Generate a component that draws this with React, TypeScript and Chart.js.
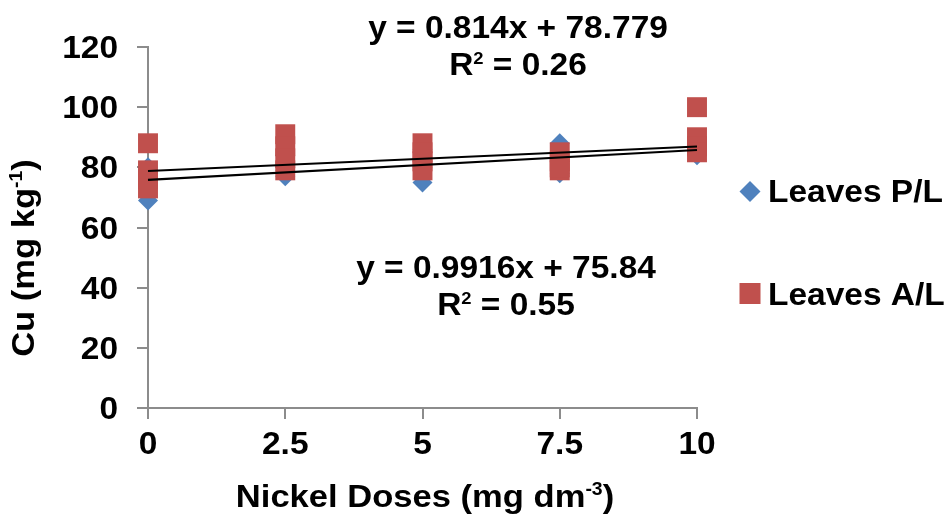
import React, { useEffect, useRef } from 'react';
import { Chart, registerables } from 'chart.js';

Chart.register(...registerables);

// ---- data ----
const doseLevels = [0, 2.5, 5, 7.5, 10];
const leavesPL = [
  [69, 74, 77, 80],
  [77, 80, 84, 79],
  [75, 80, 83, 86],
  [88, 78, 83, 85],
  [84, 86, 88, 89],
];
const leavesAL = [
  [88, 79, 76, 73],
  [91, 87, 83, 79],
  [88, 85, 82, 79],
  [85, 82, 79, 80],
  [100, 90, 87, 85],
];
const trendTop = { slope: 0.814, intercept: 78.779, eq: 'y = 0.814x + 78.779', r2: '0.26' };
const trendBottom = { slope: 0.9916, intercept: 75.84, eq: 'y = 0.9916x + 75.84', r2: '0.55' };
const yMin = 0;
const yMax = 120;
const yStep = 20;
const xStep = 2.5;
const seriesNames = ['Leaves P/L', 'Leaves A/L'];

const BLUE = '#4F81BD';
const RED = '#C0504D';
const AXIS = '#8C8C8C';
const FONT = '"Liberation Sans", Arial, sans-serif';
const SX = 1.08;

const toPoints = (vals: number[][]) =>
  doseLevels.flatMap((d, i) => vals[i].map((v) => ({ x: d, y: v })));

const trendPoints = (t: { slope: number; intercept: number }) => {
  const x0 = doseLevels[0];
  const x1 = doseLevels[doseLevels.length - 1];
  return [
    { x: x0, y: t.intercept + t.slope * x0 },
    { x: x1, y: t.intercept + t.slope * x1 },
  ];
};

type Part = { t: string; sup?: boolean };

function drawRich(
  ctx: CanvasRenderingContext2D,
  parts: Part[],
  x: number,
  y: number,
  size: number,
  align: 'center' | 'left' | 'right'
) {
  const supSize = Math.round(size * 0.55);
  const main = `bold ${size}px ${FONT}`;
  const sup = `bold ${supSize}px ${FONT}`;
  let total = 0;
  for (const p of parts) {
    ctx.font = p.sup ? sup : main;
    total += ctx.measureText(p.t).width;
  }
  ctx.save();
  ctx.translate(x, y);
  ctx.scale(SX, 1);
  let cx = align === 'center' ? -total / 2 : align === 'right' ? -total : 0;
  ctx.textAlign = 'left';
  ctx.textBaseline = 'alphabetic';
  for (const p of parts) {
    ctx.font = p.sup ? sup : main;
    ctx.fillText(p.t, cx, p.sup ? -size * 0.36 : 0);
    cx += ctx.measureText(p.t).width;
  }
  ctx.restore();
}

const textPlugin = {
  id: 'textPlugin',
  afterDraw(chart: any) {
    const ctx: CanvasRenderingContext2D = chart.ctx;
    const xs = chart.scales.x;
    const ys = chart.scales.y;
    ctx.save();
    ctx.fillStyle = '#000';
    // tick labels
    for (const t of ys.ticks) {
      drawRich(ctx, [{ t: String(t.value) }], 118, ys.getPixelForValue(t.value) + 11, 31, 'right');
    }
    for (const t of xs.ticks) {
      drawRich(ctx, [{ t: String(t.value) }], xs.getPixelForValue(t.value), 454, 31, 'center');
    }
    // equations
    drawRich(ctx, [{ t: trendTop.eq }], 518, 38, 31, 'center');
    drawRich(ctx, [{ t: 'R' }, { t: '2', sup: true }, { t: ' = ' + trendTop.r2 }], 518, 75, 31, 'center');
    drawRich(ctx, [{ t: trendBottom.eq }], 506, 278, 31, 'center');
    drawRich(ctx, [{ t: 'R' }, { t: '2', sup: true }, { t: ' = ' + trendBottom.r2 }], 506, 315, 31, 'center');
    // x title
    drawRich(ctx, [{ t: 'Nickel Doses (mg dm' }, { t: '-3', sup: true }, { t: ')' }], 425, 507, 32, 'center');
    // y title
    ctx.save();
    ctx.translate(34, 258);
    ctx.rotate(-Math.PI / 2);
    drawRich(ctx, [{ t: 'Cu (mg kg' }, { t: '-1', sup: true }, { t: ')' }], 0, 0, 32, 'center');
    ctx.restore();
    // legend
    ctx.fillStyle = BLUE;
    ctx.beginPath();
    ctx.moveTo(750, 181);
    ctx.lineTo(760.5, 191.5);
    ctx.lineTo(750, 202);
    ctx.lineTo(739.5, 191.5);
    ctx.closePath();
    ctx.fill();
    ctx.fillStyle = RED;
    ctx.fillRect(739.5, 283, 21, 21);
    ctx.fillStyle = '#000';
    drawRich(ctx, [{ t: seriesNames[0] }], 768, 202, 31, 'left');
    drawRich(ctx, [{ t: seriesNames[1] }], 768, 305, 31, 'left');
    ctx.restore();
  },
};

export default function App() {
  const ref = useRef<HTMLCanvasElement>(null);
  useEffect(() => {
    if (!ref.current) return;
    const chart = new Chart(ref.current, {
      type: 'scatter',
      data: {
        datasets: [
          {
            type: 'line',
            label: 'trend top',
            data: trendPoints(trendTop),
            borderColor: '#000',
            borderWidth: 2.2,
            pointRadius: 0,
            fill: false,
            clip: false,
            order: 0,
          } as any,
          {
            type: 'line',
            label: 'trend bottom',
            data: trendPoints(trendBottom),
            borderColor: '#000',
            borderWidth: 2.2,
            pointRadius: 0,
            fill: false,
            clip: false,
            order: 0,
          } as any,
          {
            label: seriesNames[1],
            data: toPoints(leavesAL),
            pointStyle: 'rect',
            pointRadius: 14.1,
            backgroundColor: RED,
            borderColor: RED,
            borderWidth: 0,
            clip: false,
            order: 1,
          } as any,
          {
            label: seriesNames[0],
            data: toPoints(leavesPL),
            pointStyle: 'rectRot',
            pointRadius: 10,
            backgroundColor: BLUE,
            borderColor: BLUE,
            borderWidth: 0,
            clip: false,
            order: 2,
          } as any,
        ],
      },
      options: {
        animation: false,
        responsive: false,
        maintainAspectRatio: false,
        layout: { padding: { top: 47, right: 251, left: 0, bottom: 0 } },
        plugins: { legend: { display: false }, tooltip: { enabled: false } },
        scales: {
          x: {
            type: 'linear',
            min: doseLevels[0],
            max: doseLevels[doseLevels.length - 1],
            ticks: {
              stepSize: xStep,
              display: false,
            },
            grid: { drawOnChartArea: false, drawTicks: true, tickLength: 11, color: AXIS, lineWidth: 2 },
            border: { color: AXIS, width: 2 },
            afterFit: (s: any) => {
              s.height = 106;
            },
          },
          y: {
            type: 'linear',
            min: yMin,
            max: yMax,
            ticks: {
              stepSize: yStep,
              display: false,
            },
            grid: { drawOnChartArea: false, drawTicks: true, tickLength: 11, color: AXIS, lineWidth: 2 },
            border: { color: AXIS, width: 2 },
            afterFit: (s: any) => {
              s.width = 148;
            },
          },
        },
      },
      plugins: [textPlugin],
    });
    return () => chart.destroy();
  }, []);
  return (
    <div style={{ position: 'fixed', left: 0, top: 0, width: 948, height: 514, background: '#fff' }}>
      <canvas ref={ref} width={948} height={514} style={{ width: 948, height: 514 }} />
    </div>
  );
}
